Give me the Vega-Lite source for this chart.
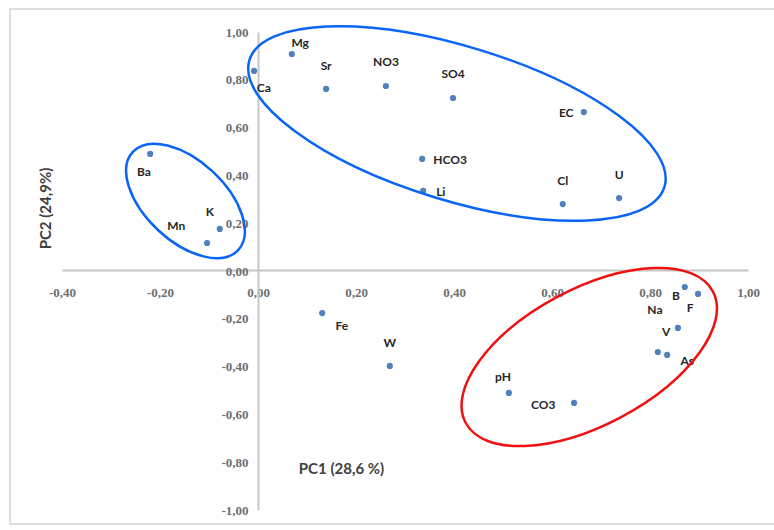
{
  "$schema": "https://vega.github.io/schema/vega-lite/v6.json",
  "width": 686,
  "height": 478,
  "autosize": "none",
  "padding": {"left": 62, "top": 32, "right": 26, "bottom": 20},
  "background": "white",
  "config": {"view": {"stroke": null}, "font": "Lato"},
  "datasets": {
    "loadings": [
      {"el": "Ca", "pc1": -0.008, "pc2": 0.837},
      {"el": "Mg", "pc1": 0.069, "pc2": 0.908},
      {"el": "Sr", "pc1": 0.139, "pc2": 0.762},
      {"el": "NO3", "pc1": 0.261, "pc2": 0.774},
      {"el": "SO4", "pc1": 0.398, "pc2": 0.724},
      {"el": "EC", "pc1": 0.665, "pc2": 0.665},
      {"el": "HCO3", "pc1": 0.335, "pc2": 0.469},
      {"el": "Li", "pc1": 0.337, "pc2": 0.335},
      {"el": "Cl", "pc1": 0.622, "pc2": 0.28},
      {"el": "U", "pc1": 0.737, "pc2": 0.305},
      {"el": "Ba", "pc1": -0.22, "pc2": 0.49},
      {"el": "K", "pc1": -0.078, "pc2": 0.176},
      {"el": "Mn", "pc1": -0.104, "pc2": 0.117},
      {"el": "Fe", "pc1": 0.131, "pc2": -0.176},
      {"el": "W", "pc1": 0.269, "pc2": -0.397},
      {"el": "pH", "pc1": 0.512, "pc2": -0.51},
      {"el": "CO3", "pc1": 0.645, "pc2": -0.552},
      {"el": "B", "pc1": 0.871, "pc2": -0.067},
      {"el": "F", "pc1": 0.898, "pc2": -0.096},
      {"el": "V", "pc1": 0.857, "pc2": -0.238},
      {"el": "Na", "pc1": 0.816, "pc2": -0.339},
      {"el": "As", "pc1": 0.835, "pc2": -0.351}
    ],
    "labels": [
      {"el": "Ca", "lx": 0.012, "ly": 0.766},
      {"el": "Mg", "lx": 0.086, "ly": 0.954},
      {"el": "Sr", "lx": 0.139, "ly": 0.858},
      {"el": "NO3", "lx": 0.261, "ly": 0.874},
      {"el": "SO4", "lx": 0.398, "ly": 0.824},
      {"el": "EC", "lx": 0.629, "ly": 0.661},
      {"el": "HCO3", "lx": 0.392, "ly": 0.464},
      {"el": "Li", "lx": 0.373, "ly": 0.331},
      {"el": "Cl", "lx": 0.622, "ly": 0.377},
      {"el": "U", "lx": 0.737, "ly": 0.402},
      {"el": "Ba", "lx": -0.233, "ly": 0.414},
      {"el": "K", "lx": -0.098, "ly": 0.247},
      {"el": "Mn", "lx": -0.167, "ly": 0.188},
      {"el": "Fe", "lx": 0.171, "ly": -0.23},
      {"el": "W", "lx": 0.269, "ly": -0.301},
      {"el": "pH", "lx": 0.5, "ly": -0.444},
      {"el": "CO3", "lx": 0.582, "ly": -0.561},
      {"el": "B", "lx": 0.853, "ly": -0.105},
      {"el": "F", "lx": 0.882, "ly": -0.155},
      {"el": "Na", "lx": 0.81, "ly": -0.163},
      {"el": "V", "lx": 0.833, "ly": -0.255},
      {"el": "As", "lx": 0.876, "ly": -0.377}
    ],
    "groups": [
      {"group": "big", "cx": 0.406, "cy": 0.617},
      {"group": "small", "cx": -0.148, "cy": 0.293},
      {"group": "red", "cx": 0.676, "cy": -0.36}
    ]
  },
  "layer": [
    {
      "data": {"name": "loadings"},
      "mark": {"type": "circle", "size": 38, "color": "#4f81bd", "opacity": 1},
      "encoding": {
        "x": {
          "field": "pc1", "type": "quantitative", "title": "PC1 (28,6 %)",
          "scale": {"domain": [-0.4, 1], "nice": false, "zero": false},
          "axis": {
            "values": [-0.4, -0.2, 0, 0.2, 0.4, 0.6, 0.8, 1.0],
            "offset": -240,
            "labelExpr": "replace(replace(format(datum.value,'.2f'),'.',','),'\u2212','-')",
            "ticks": false, "grid": false,
            "domainColor": "#c6c6c6", "domainWidth": 2,
            "labelFont": "Liberation Serif", "labelFontSize": 13, "labelFontWeight": "bold", "labelColor": "#6e6e6e",
            "labelPadding": 16, "labelOverlap": false, "labelFlush": false,
            "titleX": 279, "titleY": 198,
            "titleAlign": "center", "titleBaseline": "middle",
            "titleFont": "Lato", "titleFontSize": 15, "titleFontWeight": "bold", "titleColor": "#404040"
          }
        },
        "y": {
          "field": "pc2", "type": "quantitative", "title": "PC2 (24,9%)",
          "scale": {"domain": [-1, 1], "nice": false, "zero": false},
          "axis": {
            "values": [-1, -0.8, -0.6, -0.4, -0.2, 0, 0.2, 0.4, 0.6, 0.8, 1.0],
            "offset": -196,
            "labelExpr": "replace(replace(format(datum.value,'.2f'),'.',','),'\u2212','-')",
            "ticks": false, "grid": false,
            "domainColor": "#c6c6c6", "domainWidth": 2,
            "labelFont": "Liberation Serif", "labelFontSize": 13, "labelFontWeight": "bold", "labelColor": "#6e6e6e",
            "labelPadding": 10, "labelOverlap": false, "labelFlush": false,
            "titleX": -213, "titleY": 176, "titleAngle": -90,
            "titleAlign": "center", "titleBaseline": "middle",
            "titleFont": "Lato", "titleFontSize": 15, "titleFontWeight": "bold", "titleColor": "#404040"
          }
        }
      }
    },
    {
      "data": {"values": [{}]},
      "mark": {"type": "rect", "fill": null, "stroke": "#d4d4d4", "strokeWidth": 1.5, "clip": false},
      "encoding": {
        "x": {"datum": -0.506, "type": "quantitative", "title": "PC1 (28,6 %)", "scale": {"domain": [-0.4, 1], "nice": false, "zero": false}},
        "x2": {"datum": 1.12},
        "y": {"datum": 1.096, "type": "quantitative", "title": "PC2 (24,9%)", "scale": {"domain": [-1, 1], "nice": false, "zero": false}},
        "y2": {"datum": -1.059}
      }
    },
    {
      "data": {"name": "labels"},
      "mark": {"type": "text", "font": "Lato", "fontSize": 12, "fontWeight": "bold", "color": "#262626", "align": "center", "baseline": "middle"},
      "encoding": {
        "x": {"field": "lx", "type": "quantitative", "title": "PC1 (28,6 %)", "scale": {"domain": [-0.4, 1], "nice": false, "zero": false}},
        "y": {"field": "ly", "type": "quantitative", "title": "PC2 (24,9%)", "scale": {"domain": [-1, 1], "nice": false, "zero": false}},
        "text": {"field": "el"}
      }
    },
    {
      "data": {"name": "groups"},
      "transform": [{"filter": "datum.group === 'big'"}],
      "mark": {"type": "point", "shape": "M-1,0A1,0.355 0 1,0 1,0A1,0.355 0 1,0 -1,0Z", "size": 188356, "angle": 17, "filled": false, "fill": null, "stroke": "#0a64f5", "strokeWidth": 2.5, "opacity": 1, "clip": false},
      "encoding": {
        "x": {"field": "cx", "type": "quantitative", "title": "PC1 (28,6 %)", "scale": {"domain": [-0.4, 1], "nice": false, "zero": false}},
        "y": {"field": "cy", "type": "quantitative", "title": "PC2 (24,9%)", "scale": {"domain": [-1, 1], "nice": false, "zero": false}}
      }
    },
    {
      "data": {"name": "groups"},
      "transform": [{"filter": "datum.group === 'small'"}],
      "mark": {"type": "point", "shape": "M-1,0A1,0.556 0 1,0 1,0A1,0.556 0 1,0 -1,0Z", "size": 20736, "angle": 43, "filled": false, "fill": null, "stroke": "#0a64f5", "strokeWidth": 2.5, "opacity": 1, "clip": false},
      "encoding": {
        "x": {"field": "cx", "type": "quantitative", "title": "PC1 (28,6 %)", "scale": {"domain": [-0.4, 1], "nice": false, "zero": false}},
        "y": {"field": "cy", "type": "quantitative", "title": "PC2 (24,9%)", "scale": {"domain": [-1, 1], "nice": false, "zero": false}}
      }
    },
    {
      "data": {"name": "groups"},
      "transform": [{"filter": "datum.group === 'red'"}],
      "mark": {"type": "point", "shape": "M-1,0A1,0.486 0 1,0 1,0A1,0.486 0 1,0 -1,0Z", "size": 78400, "angle": -28, "filled": false, "fill": null, "stroke": "#f01010", "strokeWidth": 2.5, "opacity": 1, "clip": false},
      "encoding": {
        "x": {"field": "cx", "type": "quantitative", "title": "PC1 (28,6 %)", "scale": {"domain": [-0.4, 1], "nice": false, "zero": false}},
        "y": {"field": "cy", "type": "quantitative", "title": "PC2 (24,9%)", "scale": {"domain": [-1, 1], "nice": false, "zero": false}}
      }
    }
  ]
}
